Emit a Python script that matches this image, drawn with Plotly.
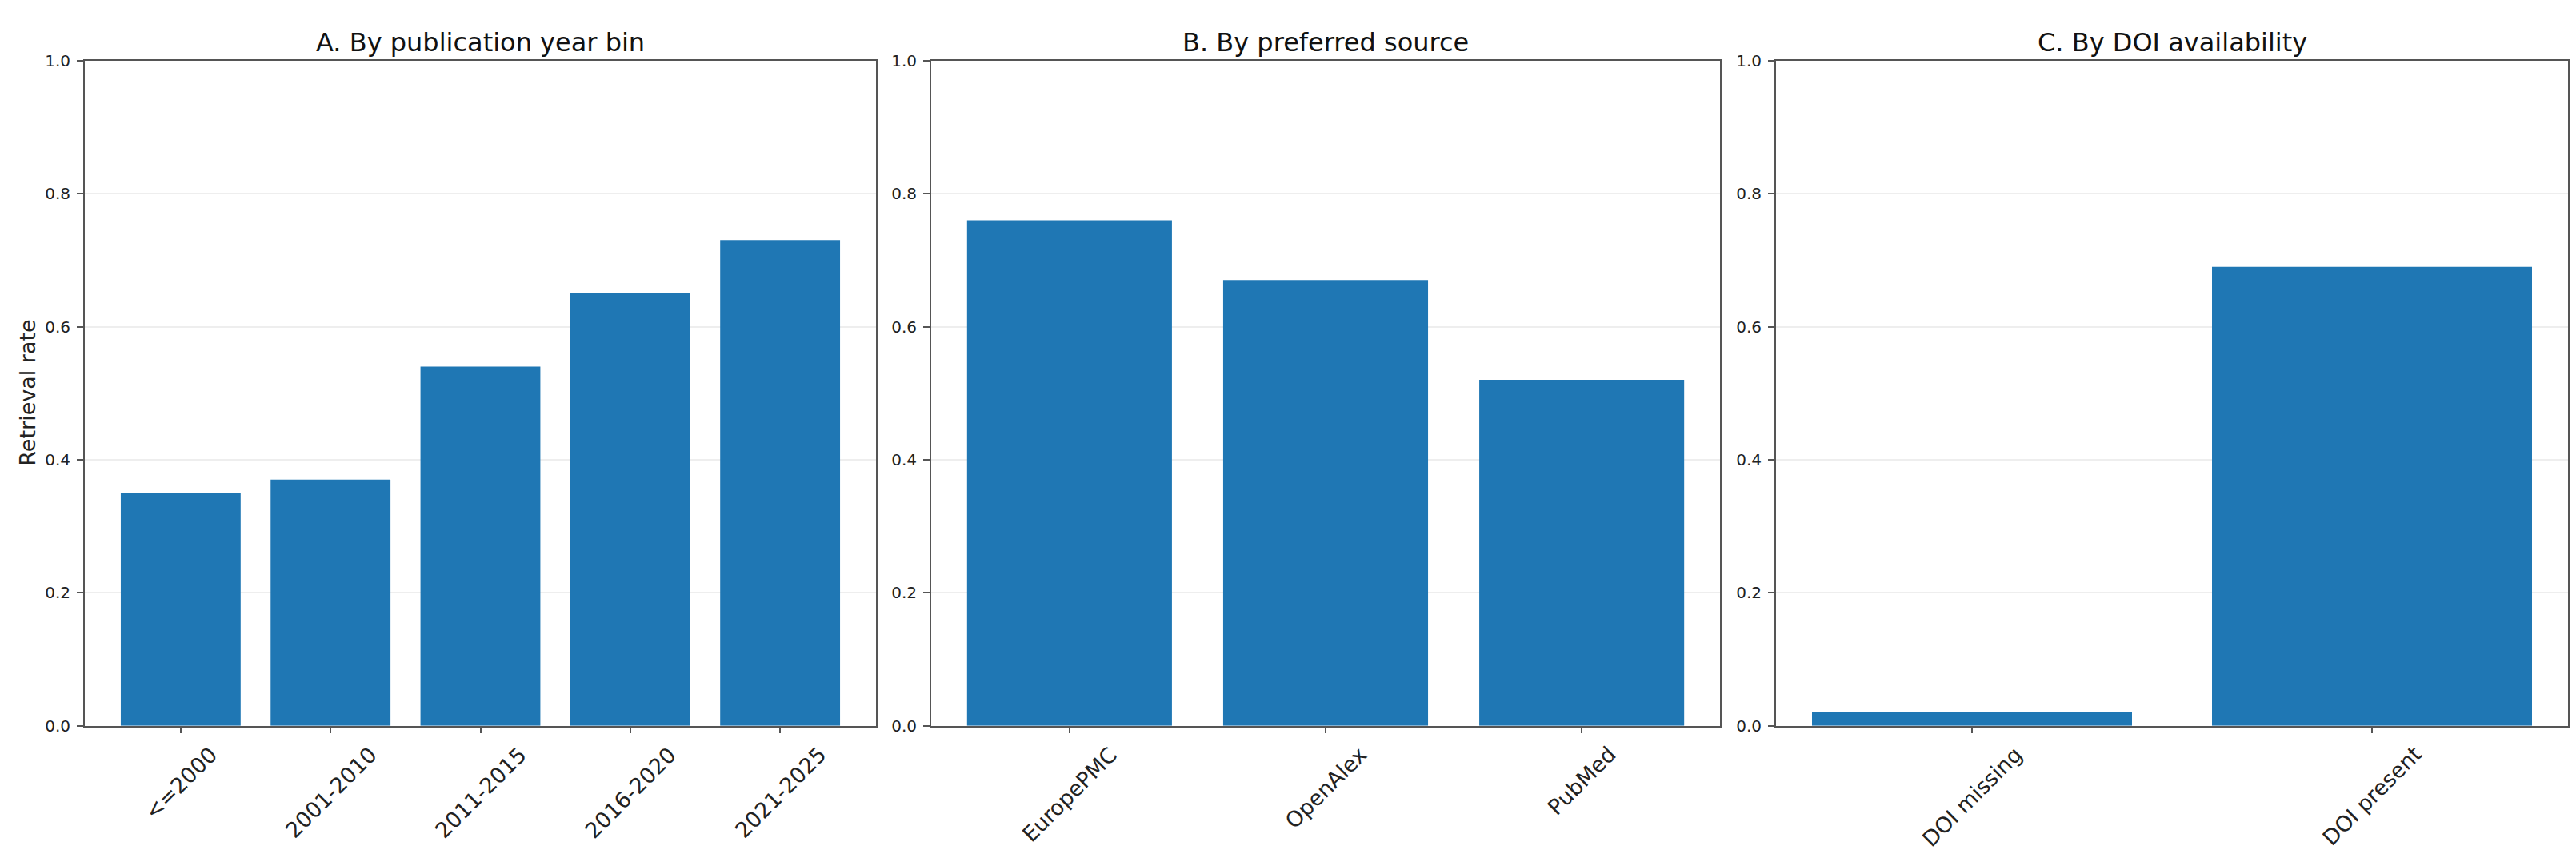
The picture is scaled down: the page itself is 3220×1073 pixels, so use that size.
import plotly.graph_objects as go

# retrieval rates
year_bins = ["<=2000", "2001-2010", "2011-2015", "2016-2020", "2021-2025"]
year_rate = [0.35, 0.37, 0.54, 0.65, 0.73]

sources = ["EuropePMC", "OpenAlex", "PubMed"]
source_rate = [0.76, 0.67, 0.52]

doi_groups = ["DOI missing", "DOI present"]
doi_rate = [0.02, 0.69]

titles = ["A. By publication year bin", "B. By preferred source", "C. By DOI availability"]

W, H = 3220, 1073
BLUE = "#1f77b4"
FONT = "DejaVu Sans"

# panel positions in pixels (left, right), plot area top/bottom
panels_px = [(98, 1087), (1156, 2142), (2212, 3202)]
top_px, bottom_px = 57, 908

panels = [
    (year_bins, year_rate),
    (sources, source_rate),
    (doi_groups, doi_rate),
]

fig = go.Figure()
annotations = []

for i, (cats, vals) in enumerate(panels):
    n = i + 1
    xa = "x" if n == 1 else "x%d" % n
    ya = "y" if n == 1 else "y%d" % n
    fig.add_trace(go.Bar(
        x=cats, y=vals, width=0.8,
        marker=dict(color=BLUE, line=dict(width=0)),
        xaxis=xa, yaxis=ya, showlegend=False,
    ))

    left, right = panels_px[i]
    pad = 0.4 + 0.05 * (len(cats) - 1 + 0.8)
    axis_x = dict(
        domain=[left / W, right / W],
        type="category",
        range=[-pad, len(cats) - 1 + pad],
        showline=True, mirror=True, linecolor="#555555", linewidth=2,
        ticks="outside", ticklen=7, tickwidth=1.5, tickcolor="#555555",
        showticklabels=False, showgrid=False, zeroline=False,
        anchor=ya,
    )
    axis_y = dict(
        domain=[1 - bottom_px / H, 1 - top_px / H],
        range=[0, 1],
        tickvals=[0, 0.2, 0.4, 0.6, 0.8, 1.0],
        tickformat=".1f",
        tickfont=dict(family=FONT, size=20, color="#222222"),
        showline=True, mirror=True, linecolor="#555555", linewidth=2,
        ticks="outside", ticklen=8, tickwidth=1.5, tickcolor="#555555",
        ticklabelstandoff=4,
        showgrid=True, gridcolor="#eeeeee", gridwidth=1.5,
        zeroline=False,
        anchor=xa,
    )
    key = "" if n == 1 else str(n)
    fig.update_layout(**{"xaxis" + key: axis_x, "yaxis" + key: axis_y})

    # rotated category labels, centred under each tick like the original
    for c in cats:
        annotations.append(dict(
            x=c, xref=xa, y=1 - 926 / H, yref="paper",
            text=c, textangle=-45, showarrow=False,
            xanchor="center", yanchor="top",
            font=dict(family=FONT, size=27, color="#222222"),
        ))

    annotations.append(dict(
        x=(left + right) / 2 / W, xref="paper", y=1 - 34 / H, yref="paper",
        text=titles[i], showarrow=False, xanchor="center", yanchor="middle",
        font=dict(family=FONT, size=32, color="#111111"),
    ))

annotations.append(dict(
    x=27 / W, xref="paper", y=1 - (top_px + bottom_px) / 2 / H, yref="paper",
    text="Retrieval rate", textangle=-90, showarrow=False,
    xanchor="center", yanchor="middle",
    font=dict(family=FONT, size=27, color="#222222"),
))

fig.update_layout(
    width=W, height=H,
    margin=dict(l=0, r=0, t=0, b=0),
    paper_bgcolor="white", plot_bgcolor="white",
    font=dict(family=FONT),
    annotations=annotations,
    bargap=0.2,
)

fig.write_html("out.html")
